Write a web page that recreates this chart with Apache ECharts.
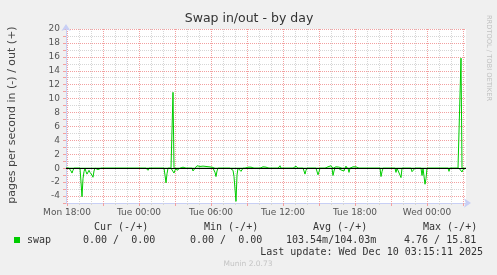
<!DOCTYPE html>
<html><head><meta charset="utf-8">
<script src="https://cdn.jsdelivr.net/npm/echarts@6/dist/echarts.min.js"></script>
<style>html,body{margin:0;padding:0;background:#f0f0f0}#c{width:497px;height:275px}</style>
</head><body><div id="c"></div>
<script>
// 5-minute steps from Mon 17:55 (step 0) to Wed 03:15 (step 400)
const stepCount = 401;
const tickSteps = [1, 73, 145, 217, 289, 361];
const tickLabels = ['Mon 18:00', 'Tue 00:00', 'Tue 06:00', 'Tue 12:00', 'Tue 18:00', 'Wed 00:00'];

// swap in (pages/s, drawn negative)
const inSteps = [5, 6, 7, 15, 16, 17, 18, 20, 21, 22, 23, 24, 25, 26, 27, 28, 32, 33, 58, 73, 82, 94,
  99, 100, 101, 108, 109, 111, 112, 113, 127, 128, 149, 150, 151, 157, 167, 168, 169, 170, 171,
  174, 175, 176, 208, 218, 238, 239, 240, 252, 253, 267, 268, 275, 278, 283, 315, 316, 330, 334, 335,
  346, 347, 348, 356, 359, 360, 383, 396, 397];
const inRates = [0.4, 0.7, 0.3, 2.0, 4.1, 1.5, 0.5, 0.5, 0.85, 0.6, 0.3, 0.6, 0.4, 1.0, 1.3, 0.4, 0.2, 0.3, 0.15, 0.25, 0.3, 0.15,
  1.0, 2.1, 0.8, 0.7, 0.3, 0.3, 0.45, 0.2, 0.4, 0.5, 0.6, 1.2, 0.4, 0.15, 0.3, 1.2, 3.0, 4.76, 1.0,
  0.2, 0.45, 0.2, 0.15, 0.15, 0.4, 0.85, 0.3, 0.95, 0.5, 1.05, 0.4, 0.25, 0.4, 0.6, 1.2, 0.5, 0.6, 1.0, 1.35,
  0.5, 0.7, 0.4, 1.05, 2.3, 1.5, 0.45, 0.55, 0.2];

// swap out (pages/s, drawn positive)
const outSteps = [107, 117, 130, 131, 132, 133, 134, 135, 136, 137, 138, 139, 140, 141, 142, 143, 144, 145, 146, 147,
  182, 183, 184, 185, 186, 187, 196, 197, 198, 199, 200, 214, 230, 231, 261, 262, 263, 264, 265, 266,
  270, 271, 272, 273, 280, 285, 286, 287, 288, 289, 290, 395];
const outRates = [10.9, 0.15, 0.2, 0.35, 0.3, 0.3, 0.25, 0.3, 0.35, 0.3, 0.35, 0.3, 0.25, 0.3, 0.3, 0.2, 0.2, 0.15, 0.15, 0.1,
  0.15, 0.2, 0.15, 0.15, 0.2, 0.15, 0.15, 0.2, 0.2, 0.15, 0.15, 0.35, 0.3, 0.15, 0.15, 0.2, 0.2, 0.2, 0.35, 0.3,
  0.2, 0.15, 0.2, 0.15, 0.3, 0.2, 0.15, 0.2, 0.25, 0.35, 0.2, 15.81];

const legendHeaders = ['Cur (-/+)', 'Min (-/+)', 'Avg (-/+)', 'Max (-/+)'];
const legendValues = ['0.00 /  0.00', '0.00 /  0.00', '103.54m/104.03m', '4.76 / 15.81'];

const cats = [];
for (let i = 0; i < stepCount; i++) cats.push(i);
const inData = new Array(stepCount).fill(0);
const outData = new Array(stepCount).fill(0);
inSteps.forEach((s, k) => { inData[s] = -inRates[k]; });
outSteps.forEach((s, k) => { outData[s] = outRates[k]; });

const GRAY = '#d6d6d6', RED = '#f2a0a0', AXIS = '#c8cff5', GREEN = '#00cc00';
const chart = echarts.init(document.getElementById('c'), null, {renderer: 'canvas'});
const sans = 'DejaVu Sans';
const headX = [94, 204, 313, 423];
const valX = [83, 190, 286, 404];
const graphics = [
  {type: 'text', x: 249, y: 19, style: {text: 'Swap in/out - by day', font: '12.5px "DejaVu Sans"', fill: '#333', align: 'center', verticalAlign: 'middle'}},
  {type: 'text', x: 12.5, y: 115, rotation: Math.PI / 2, style: {text: 'pages per second in (-) / out (+)', font: '11px "DejaVu Sans"', fill: '#444', align: 'center', verticalAlign: 'middle'}},
  {type: 'text', x: 489, y: 58, rotation: -Math.PI / 2, style: {text: 'RRDTOOL / TOBI OETIKER', font: '6.7px "DejaVu Sans"', fill: '#c0c0c0', align: 'center', verticalAlign: 'middle'}},
  {type: 'rect', shape: {x: 14, y: 237, width: 6, height: 6}, style: {fill: GREEN}},
  {type: 'text', x: 27, y: 240, style: {text: 'swap', font: '10px "DejaVu Sans Mono"', fill: '#333', verticalAlign: 'middle'}},
  {type: 'text', x: 483, y: 252, style: {text: 'Last update: Wed Dec 10 03:15:11 2025', font: '10px "DejaVu Sans Mono"', fill: '#333', align: 'right', verticalAlign: 'middle'}},
  {type: 'text', x: 248, y: 264, style: {text: 'Munin 2.0.73', font: '7.5px "DejaVu Sans"', fill: '#c4c4c4', align: 'center', verticalAlign: 'middle'}}
];
legendHeaders.forEach((t, k) => graphics.push({type: 'text', x: headX[k], y: 227.5, style: {text: t, font: '10px "DejaVu Sans Mono"', fill: '#333', verticalAlign: 'middle'}}));
legendValues.forEach((t, k) => graphics.push({type: 'text', x: valX[k], y: 240, style: {text: t, font: '10px "DejaVu Sans Mono"', fill: '#333', verticalAlign: 'middle'}}));

chart.setOption({
  animation: false,
  backgroundColor: '#f0f0f0',
  grid: {left: 66, top: 29, width: 400, height: 174, show: true, backgroundColor: '#ffffff', borderWidth: 0},
  xAxis: [
    {type: 'category', data: cats, boundaryGap: false, position: 'bottom',
      axisLine: {show: true, onZero: false, lineStyle: {color: AXIS, width: 1}, symbol: ['none', 'arrow'], symbolSize: [7, 7], symbolOffset: [0, 5]},
      axisTick: {show: true, interval: (i) => i % 12 === 1, length: 2, lineStyle: {color: GRAY}},
      axisLabel: {show: true, interval: (i) => tickSteps.includes(i), formatter: (v, i) => tickLabels[tickSteps.indexOf(Number(v))] || '',
        fontFamily: sans, fontSize: 9, color: '#555', margin: 5},
      splitLine: {show: true, interval: (i) => i % 12 === 1, lineStyle: {color: GRAY, type: [1, 1], width: 1}}},
    {type: 'category', data: cats, boundaryGap: false, position: 'bottom', offset: 0,
      axisLine: {show: false, onZero: false},
      axisTick: {show: true, interval: (i) => i % 36 === 1, length: 3, lineStyle: {color: RED}},
      axisLabel: {show: false},
      splitLine: {show: true, interval: (i) => i % 36 === 1, lineStyle: {color: RED, type: [1, 1], width: 1}}}
  ],
  yAxis: [{type: 'value', min: -5, max: 20, interval: 1,
    axisLine: {show: true, onZero: false, lineStyle: {color: AXIS, width: 1}, symbol: ['none', 'arrow'], symbolSize: [7, 7], symbolOffset: [0, 5]},
    axisTick: {show: true, length: 3, lineStyle: {color: RED}},
    axisLabel: {formatter: (v) => (v % 2 === 0 ? String(v) : ''), fontFamily: sans, fontSize: 9, color: '#555', margin: 6},
    splitLine: {show: true, lineStyle: {color: [GRAY, RED], type: [1, 1], width: 1}}}],
  series: [
    {name: 'swap in', type: 'line', data: inData, showSymbol: false, symbol: 'none', lineStyle: {color: GREEN, width: 1}, z: 3},
    {name: 'swap out', type: 'line', data: outData, showSymbol: false, symbol: 'none', lineStyle: {color: GREEN, width: 1}, z: 3},
    {name: 'zero', type: 'line', data: [], z: 5,
      markLine: {silent: true, symbol: 'none', label: {show: false}, data: [{yAxis: 0}], lineStyle: {color: '#000', width: 1, type: 'solid'}}}
  ],
  graphic: graphics
});
</script></body></html>
